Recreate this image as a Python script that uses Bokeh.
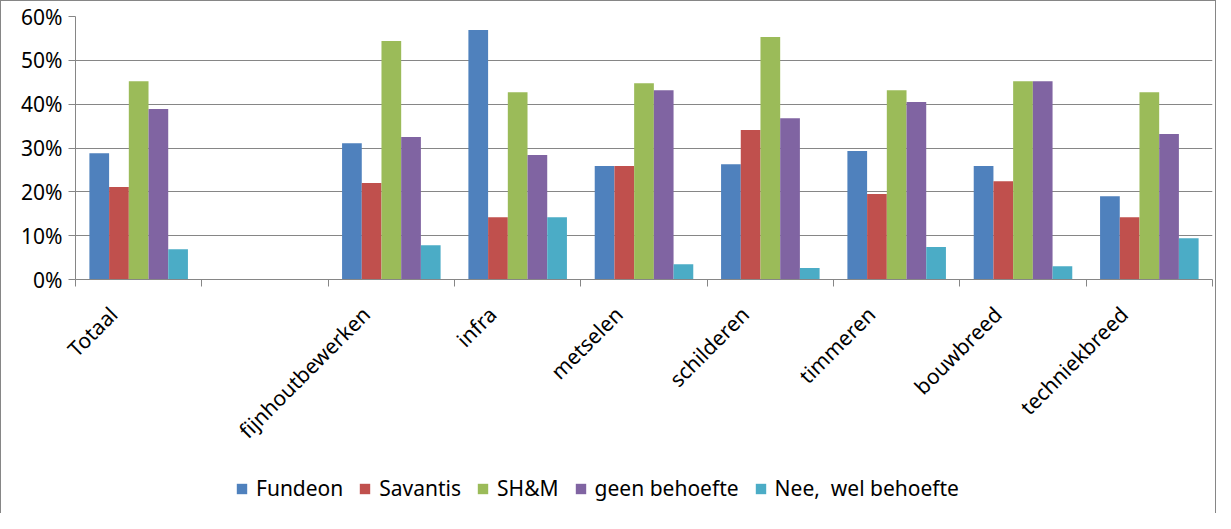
import math
from bokeh.plotting import figure
from bokeh.layouts import column
from bokeh.models import (ColumnDataSource, Range1d, LinearAxis, FixedTicker,
                          NumeralTickFormatter, Legend, LegendItem)
from bokeh.transform import dodge
from bokeh.embed import file_html
from bokeh.resources import INLINE

nan = float("nan")

categories = ["Totaal", "", "fijnhoutbewerken", "infra", "metselen", "schilderen",
              "timmeren", "bouwbreed", "techniekbreed"]
series_names = ["Fundeon", "Savantis", "SH&M", "geen behoefte", "Nee,  wel behoefte"]
fundeon = [0.288, nan, 0.311, 0.569, 0.259, 0.263, 0.293, 0.259, 0.190]
savantis = [0.211, nan, 0.220, 0.142, 0.259, 0.341, 0.195, 0.224, 0.142]
shm = [0.452, nan, 0.544, 0.427, 0.448, 0.553, 0.432, 0.452, 0.427]
geen_behoefte = [0.389, nan, 0.325, 0.284, 0.432, 0.368, 0.405, 0.452, 0.332]
nee_wel_behoefte = [0.069, nan, 0.078, 0.142, 0.035, 0.026, 0.074, 0.030, 0.094]
y_ticks = [0.0, 0.1, 0.2, 0.3, 0.4, 0.5, 0.6]

colors = ["#4F81BD", "#C0504D", "#9BBB59", "#8064A2", "#4BACC6"]
keys = ["fundeon", "savantis", "shm", "geen", "nee"]

n_cat = len(categories)
centers = [i + 0.5 for i in range(n_cat)]
bounds = list(range(n_cat + 1))
LABEL_SHIFT = -0.2  # rotated labels sit left of the category centre (as in Excel)
label_pos = [c + LABEL_SHIFT for c in centers]

source = ColumnDataSource(data=dict(pos=centers, cat=categories, fundeon=fundeon,
                                    savantis=savantis, shm=shm, geen=geen_behoefte,
                                    nee=nee_wel_behoefte))

FONT = "Noto Sans"
GRID = "#868686"
W = 1214

p = figure(width=W, height=463, output_backend="svg", toolbar_location=None,
           x_range=Range1d(0, n_cat), y_range=Range1d(0, 0.6),
           x_axis_location=None, min_border_left=74, min_border_right=3,
           min_border_top=15, min_border_bottom=185)
p.outline_line_color = None

# y axis
yax = p.yaxis[0]
yax.ticker = FixedTicker(ticks=y_ticks)
yax.formatter = NumeralTickFormatter(format="0%")
yax.major_tick_out = 7
yax.major_tick_in = 0
yax.minor_tick_line_color = None
yax.axis_line_color = GRID
yax.major_tick_line_color = GRID
yax.major_label_text_font = FONT
yax.major_label_text_font_size = "21px"
yax.major_label_text_color = "#000000"
yax.major_label_standoff = 6

p.ygrid.grid_line_color = GRID
p.ygrid.ticker = FixedTicker(ticks=y_ticks)
for g in p.xgrid:
    g.visible = False

# x axis: labels at (shifted) category centres, tick marks at category boundaries
xax = LinearAxis(ticker=FixedTicker(ticks=label_pos, minor_ticks=bounds),
                 major_label_overrides={lp: name for lp, name in zip(label_pos, categories)},
                 axis_line_color=GRID, major_tick_line_color=None,
                 major_tick_out=7, major_tick_in=0,
                 minor_tick_line_color=GRID, minor_tick_out=7, minor_tick_in=0,
                 major_label_orientation=math.pi / 4,
                 major_label_text_font=FONT,
                 major_label_text_font_size="21px",
                 major_label_text_color="#000000",
                 major_label_standoff=24)
p.add_layout(xax, "below")

bar_w = 0.156
offsets = [-2 * bar_w, -bar_w, 0.0, bar_w, 2 * bar_w]
for k, off, c in zip(keys, offsets, colors):
    p.vbar(x=dodge("pos", off), top=k, width=bar_w,
           fill_color=c, line_color=None, source=source)

# legend strip below the chart (frame is aligned with the chart's frame by the column)
lg = figure(width=W, height=49, output_backend="svg", toolbar_location=None,
            x_range=Range1d(0, n_cat), y_range=Range1d(0, 1), min_border=0,
            x_axis_location=None, y_axis_location=None)
lg.outline_line_color = None
lg.grid.visible = False
swatches = [lg.vbar(x=dodge("pos", off), top=k, width=bar_w, fill_color=c,
                    line_color=None, source=source, visible=False)
            for k, off, c in zip(keys, offsets, colors)]
legend = Legend(items=[LegendItem(label=n, renderers=[r]) for n, r in zip(series_names, swatches)],
                orientation="horizontal", location=(160, 11),
                glyph_width=13, glyph_height=13, label_standoff=8, spacing=15,
                padding=0, margin=0, border_line_color=None, background_fill_alpha=0,
                label_text_font=FONT, label_text_font_size="21px",
                label_text_color="#000000", label_height=20, click_policy="none")
lg.add_layout(legend, "center")

layout = column(p, lg, spacing=0,
                styles={"border-left": "1px solid #868686", "border-top": "1px solid #868686",
                        "border-right": "1px solid #868686"})

open("out.html", "w").write(file_html(layout, INLINE))
